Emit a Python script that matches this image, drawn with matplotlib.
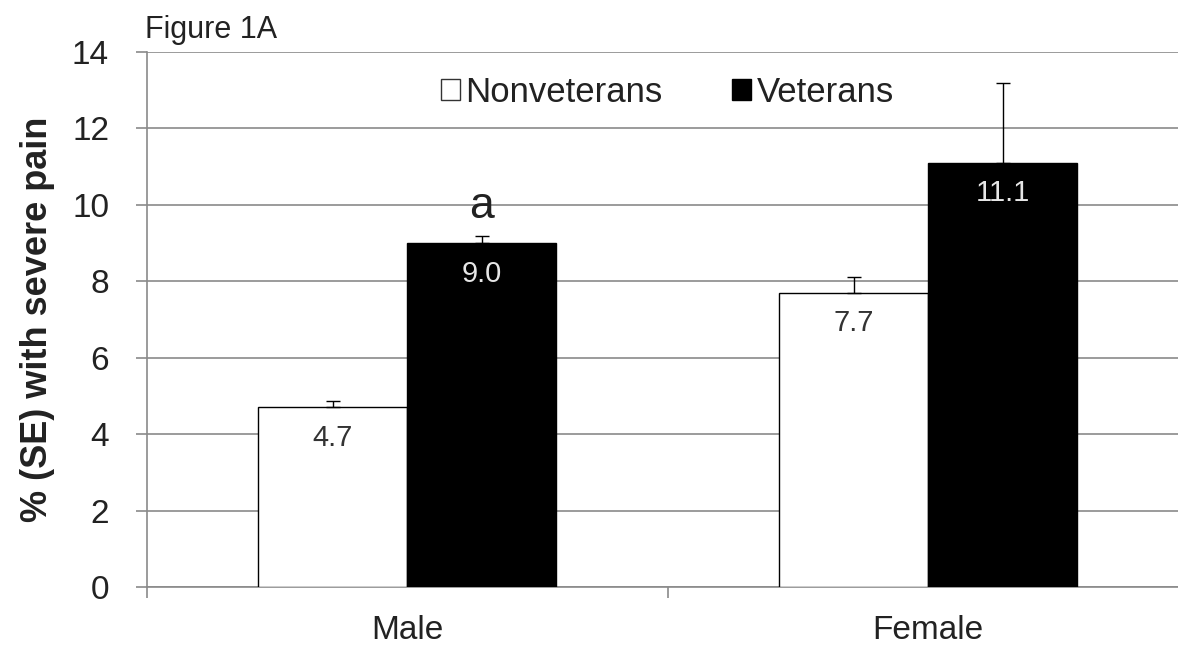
import matplotlib.pyplot as plt
import numpy as np
from matplotlib.patches import Patch

plt.rcParams['font.family'] = ['Liberation Sans', 'DejaVu Sans']

## data
groups = ['Male', 'Female']
nonvet = [4.7, 7.7]
vet = [9.0, 11.1]
nonvet_se = [0.17, 0.42]
vet_se = [0.18, 2.1]
sig_marks = ['a', '']   # mark over the veterans bar

## figure / axes
fig = plt.figure(figsize=(11.78, 6.47), dpi=100)
ax = fig.add_axes([0.1244, 0.0927, 0.8846, 0.8269])

x = np.arange(len(groups))
w = 0.286
txt = '#222222'

ax.bar(x - w/2, nonvet, w, color='white', edgecolor='black', linewidth=1.0, zorder=3)
ax.bar(x + w/2, vet, w, color='black', edgecolor='black', linewidth=1.0, zorder=3)

## upper error bars only
ax.errorbar(x - w/2, nonvet, yerr=[np.zeros(2), nonvet_se], fmt='none',
            ecolor='black', elinewidth=1.0, capsize=4.7, capthick=1.0, zorder=4)
ax.errorbar(x + w/2, vet, yerr=[np.zeros(2), vet_se], fmt='none',
            ecolor='black', elinewidth=1.0, capsize=4.7, capthick=1.0, zorder=4)

## value labels inside the bars
for i in range(len(groups)):
    ax.text(x[i] - w/2, nonvet[i] - 0.8, '%.1f' % nonvet[i], ha='center', va='center',
            fontsize=21, color='#333333', zorder=5)
    ax.text(x[i] + w/2, vet[i] - 0.8, '%.1f' % vet[i], ha='center', va='center',
            fontsize=21, color='#e6e6e6', zorder=5)
    if sig_marks[i]:
        ax.text(x[i] + w/2, vet[i] + vet_se[i] + 0.47, sig_marks[i], ha='center',
                va='baseline', fontsize=32, color=txt, zorder=5)

## axes style
ax.set_xlim(-0.5, 1.5)
ax.set_ylim(0, 14)
ax.set_yticks(np.arange(0, 15, 2))
ax.yaxis.grid(True, color='#8a8a8a', linewidth=1.2, zorder=0)
ax.set_axisbelow(True)
for s in ['top', 'right']:
    ax.spines[s].set_visible(False)
for s in ['left', 'bottom']:
    ax.spines[s].set_color('#8a8a8a')
    ax.spines[s].set_linewidth(1.2)

ax.tick_params(axis='y', direction='out', length=8, width=1.2, color='#8a8a8a',
               pad=19, labelsize=24, labelcolor=txt)
ax.set_xticks(x)
ax.set_xticklabels(groups)
ax.tick_params(axis='x', which='major', length=0, pad=20, labelsize=24, labelcolor=txt)
ax.set_xticks([-0.5, 0.5, 1.5], minor=True)
ax.tick_params(axis='x', which='minor', direction='out', length=8, width=1.2, color='#8a8a8a')

ax.set_ylabel('% (SE) with severe pain', fontsize=26, fontweight='bold', color=txt)
ax.yaxis.set_label_coords(-0.088, 0.5)

## legend
handles = [Patch(facecolor='white', edgecolor='#333333', linewidth=1.0),
           Patch(facecolor='black', edgecolor='black', linewidth=1.0)]
ax.legend(handles, ['Nonveterans', 'Veterans'], loc='center', bbox_to_anchor=(0.5, 0.925),
          ncol=2, frameon=False, fontsize=25, handlelength=0.55, handleheight=0.55,
          handletextpad=0.15, columnspacing=2.0, labelcolor=txt)

fig.text(0.123, 0.941, 'Figure 1A', fontsize=22, color=txt, va='baseline', ha='left')

fig.savefig('out.png', dpi=100)
